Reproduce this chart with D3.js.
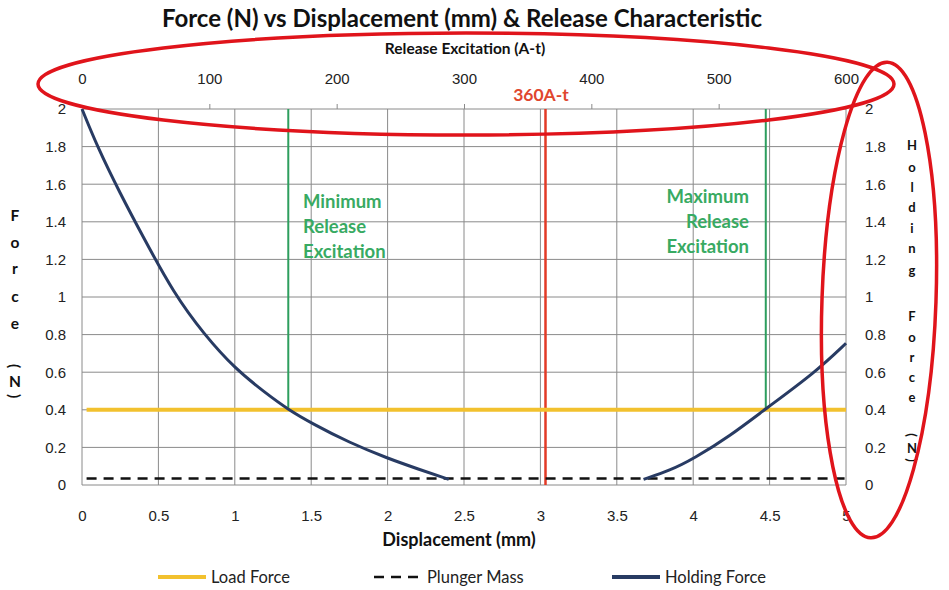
<!DOCTYPE html>
<html>
<head>
<meta charset="utf-8">
<script src="https://cdn.jsdelivr.net/npm/d3@7.9.0/dist/d3.min.js"></script>
<style>
  body { margin: 0; background: #fff; }
  svg { font-family: Lato, "Open Sans", sans-serif; }
  .grid line { stroke: #8a8a8a; stroke-width: 1; }
  .tick text { fill: #222; font-size: 15px; }
</style>
</head>
<body>
<svg id="chart" width="949" height="590"></svg>
<script>
// data
const holdLeftX = [0, 0.1, 0.25, 0.4, 0.6, 0.8, 1.0, 1.2, 1.352, 1.5, 1.75, 2.0, 2.2, 2.4];
const holdLeftF = [2.0, 1.80, 1.55, 1.32, 1.02, 0.80, 0.62, 0.49, 0.40, 0.33, 0.225, 0.142, 0.085, 0.03];
const holdRightX = [3.675, 3.85, 4.0, 4.243, 4.47, 4.8, 5.0];
const holdRightF = [0.03, 0.078, 0.138, 0.262, 0.403, 0.6, 0.754];
const loadForce = 0.4;
const plungerMass = 0.035;
const seriesStart = 0.03;
const minRelease = 162;   // A-t
const maxRelease = 537;   // A-t
const markRelease = 364;  // A-t, labelled "360A-t"
const xTicks = [0, 0.5, 1, 1.5, 2, 2.5, 3, 3.5, 4, 4.5, 5];
const yTicks = [0, 0.2, 0.4, 0.6, 0.8, 1, 1.2, 1.4, 1.6, 1.8, 2];
const topTicks = [0, 100, 200, 300, 400, 500, 600];
const legendNames = ['Load Force', 'Plunger Mass', 'Holding Force'];

const svg = d3.select('#chart');
const pLeft = 82, pRight = 846, pTop = 109, pBottom = 485;

const x = d3.scaleLinear().domain([0, 5]).range([pLeft, pRight]);
const xTop = d3.scaleLinear().domain([0, 600]).range([pLeft, pRight]);
const y = d3.scaleLinear().domain([0, 2]).range([pBottom, pTop]);

const navy = '#283b63', gold = '#f2c12e', green = '#2e9e5e', red = '#e23a26';

// grid
svg.append('g').attr('class', 'grid')
  .selectAll('line.v').data(xTicks).enter().append('line')
  .attr('x1', d => x(d)).attr('x2', d => x(d))
  .attr('y1', pTop).attr('y2', pBottom);
svg.append('g').attr('class', 'grid')
  .selectAll('line.h').data(yTicks).enter().append('line')
  .attr('x1', pLeft).attr('x2', pRight)
  .attr('y1', d => y(d)).attr('y2', d => y(d));

// axes
const gB = svg.append('g').attr('transform', `translate(0,${pBottom})`)
  .call(d3.axisBottom(x).tickValues(xTicks).tickSize(0).tickPadding(25).tickFormat(d3.format('')));
const gL = svg.append('g').attr('transform', `translate(${pLeft},0)`)
  .call(d3.axisLeft(y).tickValues(yTicks).tickSize(0).tickPadding(16).tickFormat(d3.format('')));
const gR = svg.append('g').attr('transform', `translate(${pRight},0)`)
  .call(d3.axisRight(y).tickValues(yTicks).tickSize(0).tickPadding(19).tickFormat(d3.format('')));
const gT = svg.append('g').attr('transform', `translate(0,${pTop})`)
  .call(d3.axisTop(xTop).tickValues(topTicks).tickSize(5).tickPadding(20));
[gB, gL, gR, gT].forEach(g => g.select('.domain').remove());
gT.selectAll('.tick line').attr('stroke', '#8a8a8a');
gT.selectAll('.tick line').filter(d => d === 0 || d === 600).remove();

// release lines
svg.append('line')
  .attr('x1', xTop(markRelease)).attr('x2', xTop(markRelease))
  .attr('y1', pTop).attr('y2', pBottom)
  .attr('stroke', red).attr('stroke-width', 2.5);
[minRelease, maxRelease].forEach(v => {
  svg.append('line')
    .attr('x1', xTop(v)).attr('x2', xTop(v))
    .attr('y1', pTop).attr('y2', y(loadForce))
    .attr('stroke', green).attr('stroke-width', 2);
});

// series
svg.append('line')
  .attr('x1', x(seriesStart)).attr('x2', x(5))
  .attr('y1', y(loadForce)).attr('y2', y(loadForce))
  .attr('stroke', gold).attr('stroke-width', 4);
svg.append('line')
  .attr('x1', x(seriesStart)).attr('x2', x(5))
  .attr('y1', y(plungerMass)).attr('y2', y(plungerMass))
  .attr('stroke', '#111').attr('stroke-width', 2.5).attr('stroke-dasharray', '10,7');

const line = d3.line().x(d => x(d[0])).y(d => y(d[1])).curve(d3.curveBasis);
[[holdLeftX, holdLeftF], [holdRightX, holdRightF]].forEach(([xs, fs]) => {
  svg.append('path')
    .attr('d', line(d3.zip(xs, fs)))
    .attr('fill', 'none').attr('stroke', navy).attr('stroke-width', 3);
});

// text annotations
const noteLeft = ['Minimum', 'Release', 'Excitation'];
const noteRight = ['Maximum', 'Release', 'Excitation'];
svg.append('g').selectAll('text').data(noteLeft).enter().append('text')
  .attr('x', 303).attr('y', (d, i) => 208 + i * 25.2)
  .attr('fill', '#38aa62').attr('font-size', 18.5).attr('font-weight', 'bold')
  .text(d => d);
svg.append('g').selectAll('text').data(noteRight).enter().append('text')
  .attr('x', 749).attr('y', (d, i) => 202.5 + i * 25.2).attr('text-anchor', 'end')
  .attr('fill', '#38aa62').attr('font-size', 18.5).attr('font-weight', 'bold')
  .text(d => d);
svg.append('text')
  .attr('x', 541).attr('y', 101).attr('text-anchor', 'middle')
  .attr('fill', '#e0462e').attr('font-size', 17.5).attr('font-weight', 'bold')
  .text('360A-t');

// titles
svg.append('text').attr('x', 462).attr('y', 27).attr('text-anchor', 'middle')
  .attr('font-size', 24).attr('font-weight', 'bold').attr('fill', '#111')
  .text('Force (N) vs Displacement (mm) & Release Characteristic');
svg.append('text').attr('x', 465).attr('y', 54).attr('text-anchor', 'middle')
  .attr('font-size', 15.5).attr('font-weight', 'bold').attr('fill', '#111')
  .text('Release Excitation (A-t)');
svg.append('text').attr('x', 459).attr('y', 546).attr('text-anchor', 'middle')
  .attr('font-size', 18).attr('font-weight', 'bold').attr('fill', '#111')
  .text('Displacement (mm)');

// stacked vertical axis titles, one character per row
function stacked(chars, rows, cx, size) {
  const g = svg.append('g').attr('font-size', size).attr('font-weight', 'bold').attr('fill', '#111');
  chars.forEach((c, i) => {
    const t = g.append('text').attr('text-anchor', 'middle').attr('dominant-baseline', 'central').text(c);
    if (c === '(' || c === ')') t.attr('transform', `translate(${cx},${rows[i]}) rotate(90)`);
    else t.attr('x', cx).attr('y', rows[i]);
  });
}
stacked(['F', 'o', 'r', 'c', 'e', '(', 'N', ')'],
  [215, 242, 268, 296, 323, 366, 381, 396], 15, 15.5);
stacked(['H', 'o', 'l', 'd', 'i', 'n', 'g', 'F', 'o', 'r', 'c', 'e', '(', 'N', ')'],
  [145, 167, 187, 207, 228, 248, 270, 316, 337, 357, 377, 397, 435, 448, 460], 912, 13);

// legend
const lg = svg.append('g').attr('font-size', 16.5).attr('fill', '#222');
const legX = [158, 374, 612];
const legStyle = [
  { stroke: gold, w: 4, dash: null },
  { stroke: '#111', w: 2.5, dash: '10,7' },
  { stroke: navy, w: 4, dash: null }
];
legendNames.forEach((n, i) => {
  lg.append('line').attr('x1', legX[i]).attr('x2', legX[i] + 48)
    .attr('y1', 577).attr('y2', 577)
    .attr('stroke', legStyle[i].stroke).attr('stroke-width', legStyle[i].w)
    .attr('stroke-dasharray', legStyle[i].dash);
  lg.append('text').attr('x', legX[i] + 53).attr('y', 583).text(n);
});

// red hand-drawn ellipses
svg.append('ellipse').attr('cx', 466).attr('cy', 84).attr('rx', 428).attr('ry', 51)
  .attr('fill', 'none').attr('stroke', '#e0141b').attr('stroke-width', 3.5);
svg.append('ellipse').attr('cx', 0).attr('cy', 0).attr('rx', 57).attr('ry', 238)
  .attr('transform', 'translate(879,300) rotate(2)')
  .attr('fill', 'none').attr('stroke', '#e0141b').attr('stroke-width', 3.5);
</script>
</body>
</html>
